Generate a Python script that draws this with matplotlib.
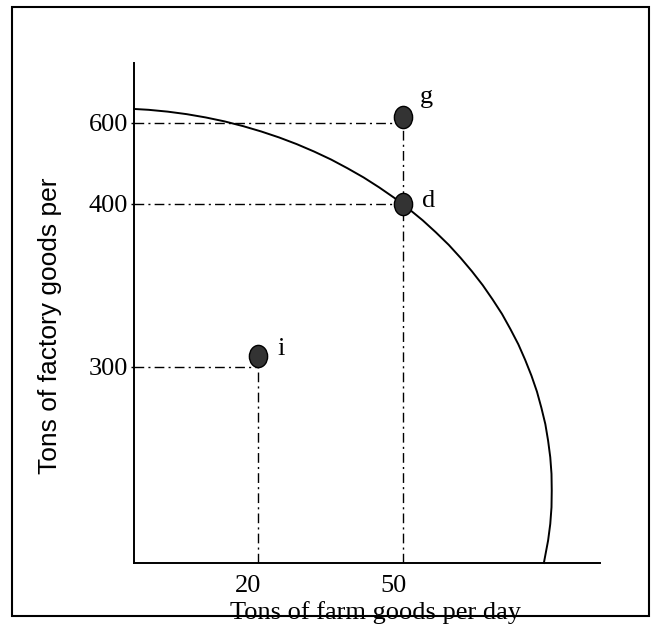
import numpy as np
import matplotlib
matplotlib.use('Agg')
import matplotlib.pyplot as plt
from matplotlib.patches import Rectangle
from matplotlib.path import Path
from matplotlib.transforms import Affine2D, ScaledTranslation

# tick values on each axis
farm_ticks = [20, 50]
factory_ticks = [300, 400, 600]

# labelled points (g, d, i) and where their dots sit
point_names = ['g', 'd', 'i']
point_farm = [50, 50, 20]
point_factory = [600, 400, 300]
dot_factory = [615, 400, 307]

# production possibilities frontier
frontier_farm = [0, 2.35, 5.46, 8.54, 11.61, 14.64, 17.64, 20.76, 24.46, 28.1,
                 31.68, 35.2, 38.57, 41.9, 45.09, 48.2, 51.14, 54.0, 56.68, 59.3,
                 61.71, 64.0, 66.19, 68.2, 70.11, 71.8, 73.42, 74.8, 76.08, 77.2,
                 78.1, 78.9, 79.46, 79.9, 80.15, 80.2, 80.15, 79.9, 79.46, 78.6]
frontier_factory = [635, 632.9, 628.3, 622, 613.8, 604, 592.3, 579, 564.2, 547.7,
                    529.4, 509.6, 488.1, 465.4, 441, 415.3, 397.1, 390, 382.6, 374.9,
                    366.9, 358.7, 350.2, 341.4, 332.5, 323.3, 313.9, 304.4, 286.7, 262.2,
                    237.4, 212.5, 187.2, 161.8, 136.4, 110.8, 85.3, 59.8, 34.4, 0]

# the hand-drawn axes are not linear: map values to where they sit
x_vals, x_pos = [0, 20, 50, 90], [0, 0.265, 0.577, 1.0]
y_vals, y_pos = [0, 300, 400, 600, 750], [0, 0.392, 0.718, 0.88, 1.0]

serif = 'Liberation Serif'
sans = 'Liberation Sans'

fig = plt.figure(figsize=(6.56, 6.24), dpi=100)
ax = fig.add_axes([0.2043, 0.0978, 0.7104, 0.8013])

ax.set_xscale('function', functions=(lambda v: np.interp(v, x_vals, x_pos),
                                     lambda p: np.interp(p, x_pos, x_vals)))
ax.set_yscale('function', functions=(lambda v: np.interp(v, y_vals, y_pos),
                                     lambda p: np.interp(p, y_pos, y_vals)))
ax.set_xlim(x_vals[0], x_vals[-1])
ax.set_ylim(y_vals[0], y_vals[-1])

dash = (0, (7, 3, 1.5, 3))
# horizontal guides from the y axis to each point
ax.hlines(point_factory, 0, point_farm, colors='black', linewidth=1,
          linestyles=[dash])
# vertical guides from the x axis up to the highest point at each x
vx = sorted(set(point_farm))
vy = [max(f for px, f in zip(point_farm, point_factory) if px == x) for x in vx]
ax.vlines(vx, 0, vy, colors='black', linewidth=1, linestyles=[dash])

ax.plot(frontier_farm, frontier_factory, color='black', linewidth=1.4,
        clip_on=False, zorder=3, solid_joinstyle='round')

oval = Path.unit_circle().transformed(Affine2D().scale(0.82, 1.0))
ax.plot(point_farm, dot_factory, linestyle='none', marker=oval,
        markersize=16, markerfacecolor='#333333', markeredgecolor='black',
        markeredgewidth=1, zorder=4, clip_on=False)

offsets = [(12, 10), (14, -2), (14, 0.5)]
for name, x, y, off in zip(point_names, point_farm, dot_factory, offsets):
    ax.annotate(name, (x, y), xytext=off, textcoords='offset points',
                ha='left', va='baseline', fontsize=19, family=serif)

for side in ['top', 'right']:
    ax.spines[side].set_visible(False)
for side in ['left', 'bottom']:
    ax.spines[side].set_linewidth(1.4)

ax.set_xticks(farm_ticks)
ax.set_xticklabels([str(v) for v in farm_ticks], fontsize=19, family=serif)
ax.set_yticks(factory_ticks)
ax.set_yticklabels([str(v) for v in factory_ticks], fontsize=19, family=serif)
ax.tick_params(axis='x', length=0, pad=9)
ax.tick_params(axis='y', length=2.2, width=1, pad=2)
ax.minorticks_off()
shift = ScaledTranslation(-0.09, 0, fig.dpi_scale_trans)
for lab in ax.get_xticklabels():
    lab.set_transform(lab.get_transform() + shift)

fig.text(0.573, 0.008, 'Tons of farm goods per day', ha='center',
         va='baseline', fontsize=19, family=serif)
fig.text(0.0755, 0.4776, 'Tons of factory goods per', rotation=90,
         ha='center', va='center', fontsize=19, family=sans)

fig.patches.append(Rectangle((0.0183, 0.0128), 0.971, 0.976,
                             transform=fig.transFigure, fill=False,
                             linewidth=1.5, edgecolor='black'))

fig.savefig('out.png', dpi=100)
